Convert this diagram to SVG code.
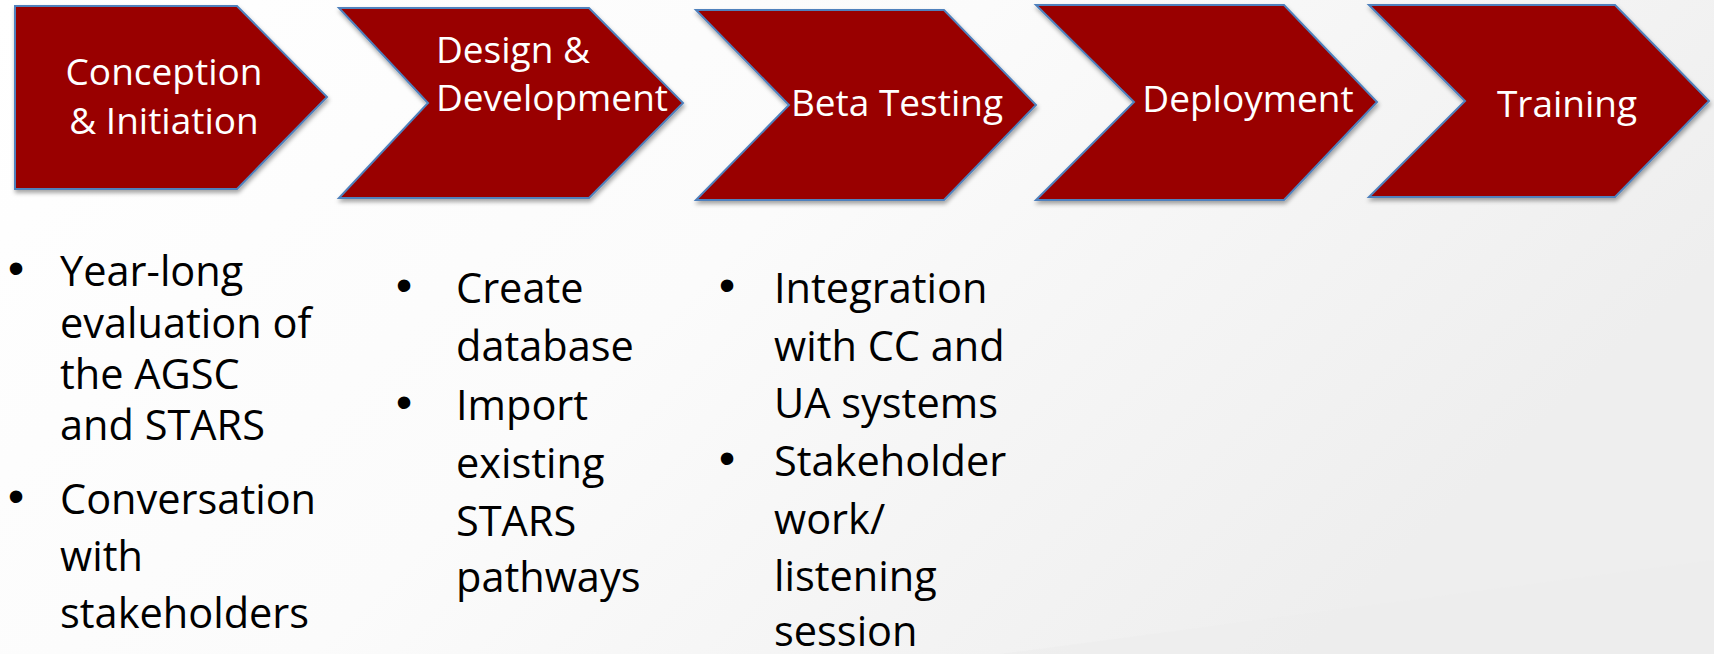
<svg xmlns="http://www.w3.org/2000/svg" width="1714" height="654" viewBox="0 0 1714 654">
<defs>
<linearGradient id="bg" x1="0" y1="0" x2="1" y2="0.4">
<stop offset="0" stop-color="#ffffff"/>
<stop offset="0.5" stop-color="#fbfbfb"/>
<stop offset="1" stop-color="#eeeeee"/>
</linearGradient>
<filter id="sh" x="-5%" y="-5%" width="115%" height="120%">
<feDropShadow dx="1" dy="3" stdDeviation="2" flood-color="#000" flood-opacity="0.35"/>
</filter>
<style>
.chev{fill:#990000;stroke:#4f81bd;stroke-width:2;filter:url(#sh)}
.lbl{font-family:"Open Sans","Liberation Sans",sans-serif;font-size:37px;fill:#ffffff}
.blt{font-family:"Open Sans","Liberation Sans",sans-serif;font-size:41.5px;fill:#000000}
.dot{font-family:"Liberation Sans",Arial,sans-serif;font-size:46px;fill:#000000;text-anchor:middle}
</style>
</defs>
<rect width="1714" height="654" fill="url(#bg)"/>
<polygon points="1000,654 1714,560 1714,654" fill="#ececec" opacity="0.6"/>
<g id="connectors"></g>
<g id="conception">
<polygon class="chev" points="15,6 237,6 327,97 237,189 15,189"/>
<text class="lbl" x="164" y="85" text-anchor="middle">Conception</text>
<text class="lbl" x="164" y="134" text-anchor="middle">&amp; Initiation</text>
</g>
<g id="design">
<polygon class="chev" points="339,8 589,8 683,103 589,198 339,198 428,103"/>
<text class="lbl" x="436" y="63">Design &amp;</text>
<text class="lbl" x="436" y="111">Development</text>
</g>
<g id="beta">
<polygon class="chev" points="696,10 944,10 1036,105 944,200 696,200 789,105"/>
<text class="lbl" x="897" y="116" text-anchor="middle">Beta Testing</text>
</g>
<g id="deployment">
<polygon class="chev" points="1036,5 1284,5 1377,102 1284,200 1036,200 1134,102"/>
<text class="lbl" x="1248" y="112" text-anchor="middle">Deployment</text>
</g>
<g id="training">
<polygon class="chev" points="1369,5 1615,5 1709,101 1615,197 1369,197 1465,101"/>
<text class="lbl" x="1567" y="117" text-anchor="middle">Training</text>
</g>
<g id="col1">
<text class="dot" x="16" y="284">•</text>
<text class="blt" x="60" y="286">Year-long</text>
<text class="blt" x="60" y="338">evaluation of</text>
<text class="blt" x="60" y="389">the AGSC</text>
<text class="blt" x="60" y="440">and STARS</text>
<text class="dot" x="16" y="512">•</text>
<text class="blt" x="60" y="514">Conversation</text>
<text class="blt" x="60" y="571">with</text>
<text class="blt" x="60" y="628">stakeholders</text>
</g>
<g id="col2">
<text class="dot" x="404" y="301">•</text>
<text class="blt" x="456" y="303">Create</text>
<text class="blt" x="456" y="361">database</text>
<text class="dot" x="404" y="418">•</text>
<text class="blt" x="456" y="420">Import</text>
<text class="blt" x="456" y="478">existing</text>
<text class="blt" x="456" y="536">STARS</text>
<text class="blt" x="456" y="592">pathways</text>
</g>
<g id="col3">
<text class="dot" x="727" y="301">•</text>
<text class="blt" x="774" y="303">Integration</text>
<text class="blt" x="774" y="361">with CC and</text>
<text class="blt" x="774" y="418">UA systems</text>
<text class="dot" x="727" y="474">•</text>
<text class="blt" x="774" y="476">Stakeholder</text>
<text class="blt" x="774" y="534">work/</text>
<text class="blt" x="774" y="591">listening</text>
<text class="blt" x="774" y="646">session</text>
</g>
</svg>
